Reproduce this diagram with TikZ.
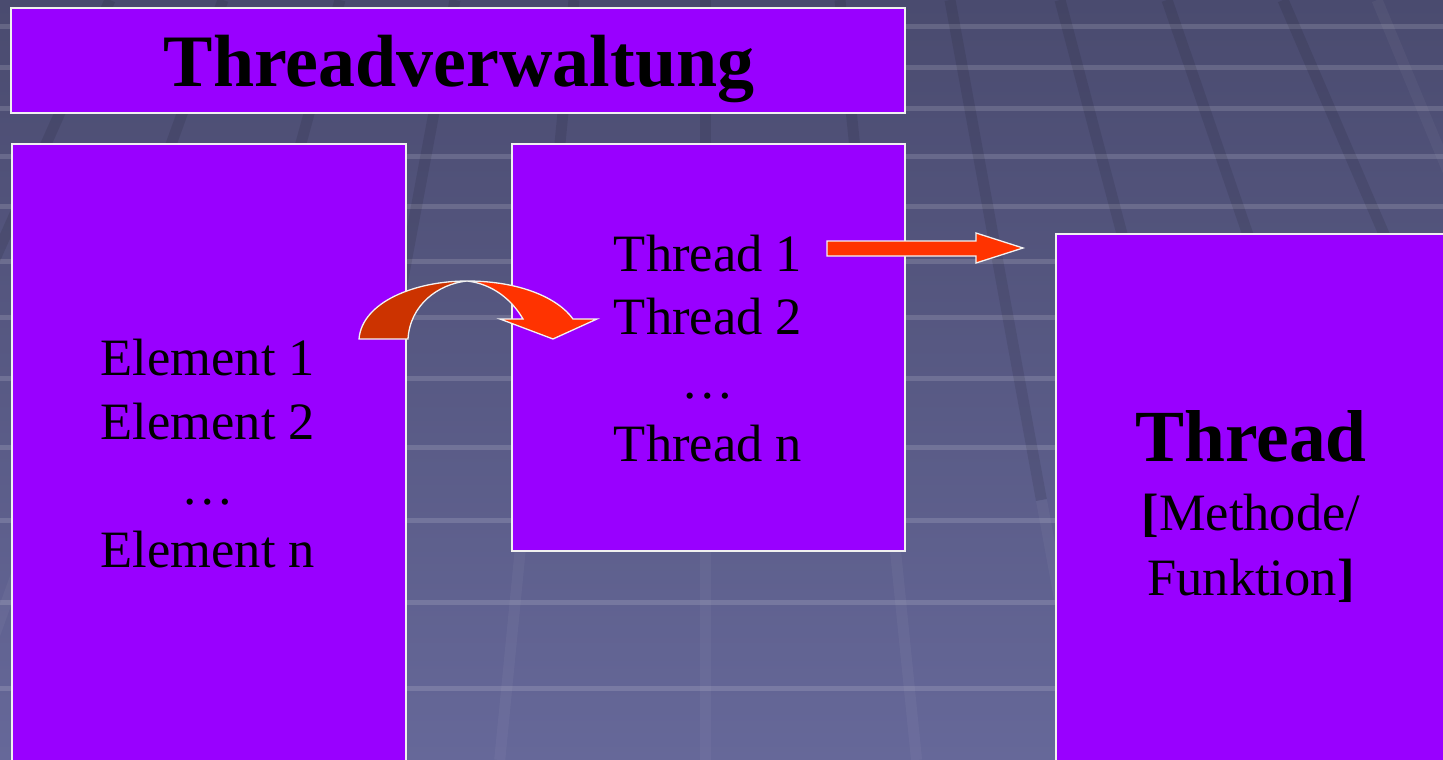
\documentclass[tikz,border=0pt]{standalone}
\usepackage{fontspec}
\setmainfont{Liberation Serif}
\begin{document}
\begin{tikzpicture}[x=1pt,y=-1pt,
  box/.style={draw=white!88!gray, line width=1.8pt, fill=boxpurple, anchor=north west, inner sep=0pt},
  txt/.style={anchor=base, inner sep=0pt, font=\fontsize{52.5}{63}\selectfont, text=black},
  bigtxt/.style={anchor=base, inner sep=0pt, font=\fontsize{73.5}{80}\selectfont\bfseries, text=black},
  stripe/.style={fill=white, fill opacity=0.14},
  darkline/.style={draw=black, draw opacity=0.09, line width=11pt},
  lightline/.style={draw=white, draw opacity=0.04, line width=11pt},
  blockarrow/.style={draw=white!90!gray, line width=1.3pt, line join=miter}
]
\definecolor{boxpurple}{HTML}{9900FF}
\definecolor{bgtop}{HTML}{4A4B6F}
\definecolor{bgbot}{HTML}{666899}
\definecolor{arrowred}{HTML}{FF3300}
\definecolor{arrowdark}{HTML}{CC3300}
\useasboundingbox (0,0) rectangle (1443,760);
\clip (0,0) rectangle (1443,760);
% background
\shade[top color=bgtop, bottom color=bgbot] (0,0) rectangle (1443,760);
\foreach \y in {27,68,109,157,207,262,318,379,448,521,603,689}
  \fill[stripe] (0,\y-3) rectangle (1443,\y+2);
\foreach \x in {110,223,340,455,574,705,840,950,1060,1167,1283}{
  \pgfmathsetmacro{\xm}{\x+(\x-705)/1340*500}
  \pgfmathsetmacro{\xb}{\x+(\x-705)/1340*760}
  \draw[darkline] (\x,0) -- (\xm,500);
  \draw[lightline] (\xm,500) -- (\xb,760);
}
\draw[lightline] (1377,0) -- (1460,200);

% boxes
\node[box, minimum width=894pt, minimum height=105pt] (titlebox) at (10,7) {};
\node[box, minimum width=394pt, minimum height=640pt] (leftbox) at (11,143) {};
\node[box, minimum width=393pt, minimum height=407pt] (midbox) at (511,143) {};
\node[box, minimum width=400pt, minimum height=560pt] (rightbox) at (1055,233) {};

% texts
\node[bigtxt, font=\fontsize{74}{80}\selectfont\bfseries] (title) at (459,87) {Threadverwaltung};

\node[txt] (e1) at (208,375) {Element 1};
\node[txt] (e2) at (208,439) {Element 2};
\node[txt] (edots) at (208,504) {…};
\node[txt] (en) at (208,567) {Element n};

\node[txt] (t1) at (708,271) {Thread 1};
\node[txt] (t2) at (708,334) {Thread 2};
\node[txt] (tdots) at (708,398) {…};
\node[txt] (tn) at (708,461) {Thread n};

\node[bigtxt] (thread) at (1251,461) {Thread};
\node[txt] (meth) at (1251,530) {\textbf{[}Methode/};
\node[txt] (funk) at (1251,595) {Funktion\textbf{]}};

% straight block arrow
\draw[blockarrow, fill=arrowred]
  (827,241) -- (976,241) -- (976,233) -- (1023,248) -- (976,263) -- (976,256) -- (827,256) -- cycle;

% curved block arrow
\draw[blockarrow, fill=arrowdark]
  (359,339) .. controls (362,302) and (415,281) .. (467,281)
  .. controls (438,284) and (410,305) .. (408,339) -- cycle;
\draw[blockarrow, fill=arrowred]
  (467,281) .. controls (520,281) and (558,298) .. (573,319)
  -- (597,319) -- (553,339) -- (500,319) -- (523,319)
  .. controls (512,300) and (493,284) .. (467,281) -- cycle;
\end{tikzpicture}
\end{document}
